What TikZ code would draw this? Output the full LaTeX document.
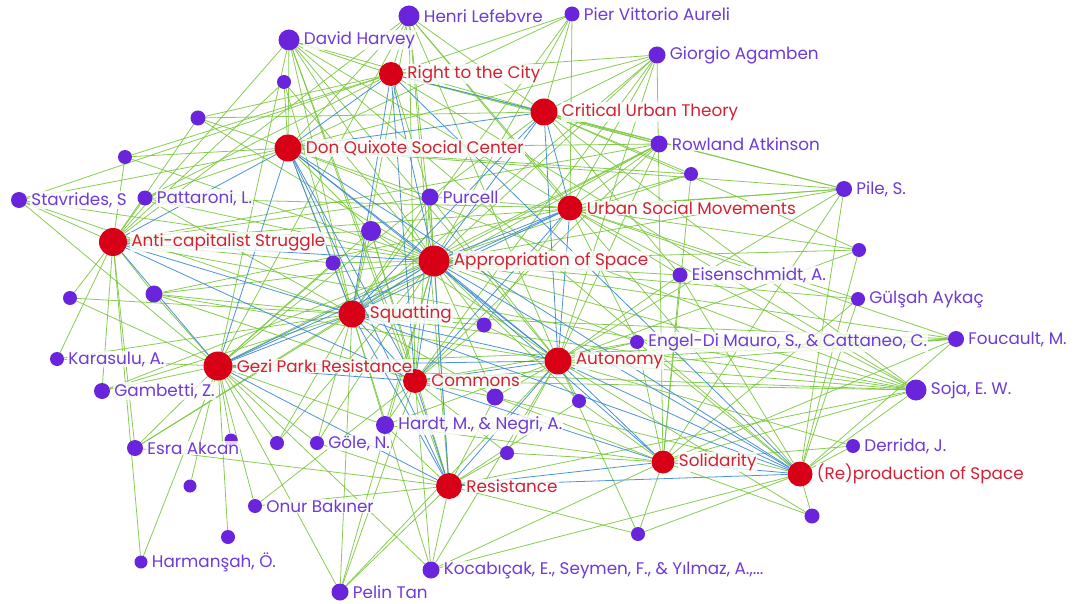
\documentclass[tikz,border=0pt]{standalone}
\usepackage{fontspec}
\setmainfont{Poppins}
\definecolor{conceptRed}{RGB}{215,0,22}
\definecolor{conceptText}{RGB}{212,32,52}
\definecolor{authorPurple}{RGB}{106,36,220}
\definecolor{authorText}{RGB}{110,58,216}
\definecolor{tieGreen}{RGB}{124,200,64}
\definecolor{linkBlue}{RGB}{58,136,214}
\pgfdeclarelayer{edges}
\pgfdeclarelayer{labels}
\pgfsetlayers{edges,main,labels}
\tikzset{
  concept/.style={circle,fill=conceptRed,inner sep=0pt,minimum size=#1},
  author/.style={circle,fill=authorPurple,inner sep=0pt,minimum size=#1},
  namebox/.style={anchor=west,fill=white,fill opacity=0.8,text opacity=1,
    inner sep=1pt,font=\fontsize{16.8}{19}\selectfont},
  clabel/.style={namebox,text=conceptText},
  alabel/.style={namebox,text=authorText},
  tie/.style={draw=tieGreen,line width=0.8pt,draw opacity=0.9},
  link/.style={draw=linkBlue,line width=0.8pt,draw opacity=0.9}
}
\begin{document}
\begin{tikzpicture}[x=1pt,y=-1pt]
\begin{pgfonlayer}{edges}
\path[use as bounding box,fill=white] (0,0) rectangle (1075,604);
\end{pgfonlayer}

% concepts
\foreach \n/\x/\y/\d in {rtc/391/74/24, cut/544/112/27, dq/288/148/27,
  usm/570/208/25, acs/113/242/28, aos/434/261/31, sq/352/314/27,
  gezi/218/366/29, com/415/381/24, aut/558/361/27, sol/663/462/23,
  res/449/486/26, rep/800/474/25}
  \node[concept=\d pt] (\n) at (\x,\y) {};

% authors
\foreach \n/\x/\y/\d in {lef/409/16/21, aur/572/14/15, har/289/40/21,
  aga/657/55/17, a1/284/82/14, a2/198/118/15, atk/659/144/17, a3/125/157/14,
  a4/691/174/14, pile/844/189/16, sta/19/200/16, pat/145/198/15,
  pur/430/197/17, a5/371/231/20, a6/859/250/14, a7/333/263/15,
  eis/680/275/15, gul/858/299/14, a8/70/298/14, a9/154/294/17,
  a10/484/325/15, eng/637/342/14, fou/956/339/16, kar/57/359/14,
  gam/102/391/16, soja/916/390/21, a11/495/397/17, a12/579/401/14,
  hn/385/425/18, gole/317/443/14, a13/277/443/14, a14/231/440/13,
  der/853/446/14, esra/135/448/16, a15/507/453/14, a16/190/486/13,
  onur/255/506/14, a17/812/516/15, a18/638/534/14, a19/228/537/14,
  harm/141/562/13, koc/431/570/17, pelin/340/592/17}
  \node[author=\d pt] (\n) at (\x,\y) {};

\begin{pgfonlayer}{edges}
% author -- concept
\foreach \a/\list in {
  lef/{rtc,cut,dq,aos,usm,sq,rep,com,acs,gezi,aut,res},
  aur/{cut,rtc,aos,usm,dq,sq},
  har/{rtc,cut,dq,acs,aos,usm,sq,com,gezi,aut,res,rep},
  aga/{cut,rtc,usm,aos,dq,aut,sq,com,sol},
  a1/{dq,acs,aos,sq},
  a2/{dq,acs,aos,cut,rtc},
  atk/{cut,usm,aos,aut,dq,rtc,sq,com,gezi,acs},
  a3/{acs,dq,rtc,aos},
  a4/{cut,usm,aos,sol,dq},
  pile/{usm,cut,aos,aut,rep,sol,dq,rtc,acs},
  sta/{acs,gezi,aos,dq,sq,rtc},
  pat/{acs,dq,aos,sq,rtc,usm},
  pur/{rtc,cut,dq,aos,usm,aut,res,sq,com,gezi,acs},
  a5/{aos,sq,gezi,dq,acs,aut,com,res},
  a6/{usm,aos,aut,cut,rep},
  a7/{aos,sq,dq,gezi,acs},
  eis/{usm,aos,aut,sol,rep,cut},
  gul/{usm,aos,rep,sol},
  a8/{acs,gezi,sq},
  a9/{acs,gezi,sq,aos,aut,com,usm},
  a10/{aos,sq,aut,com,usm},
  eng/{aut,aos,com,usm,sol,rep},
  fou/{aut,usm,rep,sol,aos,com,sq,gezi},
  kar/{gezi,acs,sq},
  gam/{gezi,acs,sq,aos},
  soja/{rep,aut,sol,aos,usm,com,res,sq,cut,gezi,dq,rtc,acs},
  a11/{aos,aut,com,res,sol,sq,rep},
  a12/{aut,sol,res,aos},
  hn/{com,res,aos,sq,aut,gezi,sol},
  gole/{gezi,aos,res,sq},
  a13/{gezi,aos,sq},
  a14/{gezi},
  der/{rep,aut,sol},
  esra/{gezi,acs,sq,aos,res},
  a15/{res,sol,aut,com},
  a16/{gezi},
  onur/{gezi,res,com},
  a17/{rep,sol,aut},
  a18/{sol,rep,aut,res},
  a19/{gezi},
  harm/{gezi,acs},
  koc/{res,gezi,com,sq,aut,rep,sol},
  pelin/{res,gezi,com,sq,aos,aut}}
  \foreach \b in \list
    \draw[tie] (\a) -- (\b);
% concept -- concept
\foreach \a/\b in {rtc/dq, rtc/aos, rtc/sq, rtc/com, rtc/cut, cut/dq,
  cut/aos, cut/usm, cut/aut, cut/sq, dq/aos, dq/sq, dq/acs, dq/gezi,
  dq/aut, dq/com, dq/res, usm/aos, usm/aut, usm/sq, usm/gezi, usm/com,
  acs/aos, acs/sq, acs/gezi, acs/com, aos/sq, aos/aut, aos/com, aos/gezi,
  aos/res, aos/sol, aos/rep, sq/gezi, sq/com, sq/aut, sq/res, sq/rep,
  gezi/com, gezi/res, gezi/aut, com/aut, com/res, com/sol, aut/sol,
  aut/rep, aut/res, res/rep, sol/rep, res/sol, dq/rep, rtc/rep}
  \draw[link] (\a) -- (\b);
\end{pgfonlayer}

\begin{pgfonlayer}{labels}
\foreach \n/\t in {rtc/{Right to the City}, cut/{Critical Urban Theory},
  dq/{Don Quixote Social Center}, usm/{Urban Social Movements},
  acs/{Anti-capitalist Struggle}, aos/{Appropriation of Space},
  sq/{Squatting}, gezi/{Gezi Parkı Resistance}, com/{Commons},
  aut/{Autonomy}, sol/{Solidarity}, res/{Resistance},
  rep/{(Re)production of Space}}
  \node[clabel] (\n-lbl) at ([xshift=3pt]\n.east) {\t};
\foreach \n/\t in {lef/{Henri Lefebvre}, aur/{Pier Vittorio Aureli},
  har/{David Harvey}, aga/{Giorgio Agamben}, atk/{Rowland Atkinson},
  pile/{Pile, S.}, sta/{Stavrides, S}, pat/{Pattaroni, L.}, pur/{Purcell},
  eis/{Eisenschmidt, A.}, gul/{Gülşah Aykaç},
  eng/{Engel-Di Mauro, S., \& Cattaneo, C.}, fou/{Foucault, M.},
  kar/{Karasulu, A.}, gam/{Gambetti, Z.}, soja/{Soja, E. W.},
  hn/{Hardt, M., \& Negri, A.}, gole/{Göle, N.}, der/{Derrida, J.},
  esra/{Esra Akcan}, onur/{Onur Bakıner}, harm/{Harmanşah, Ö.},
  koc/{Kocabıçak, E., Seymen, F., \& Yılmaz, A.,...}, pelin/{Pelin Tan}}
  \node[alabel] (\n-lbl) at ([xshift=3pt]\n.east) {\t};
\end{pgfonlayer}
\end{tikzpicture}
\end{document}
